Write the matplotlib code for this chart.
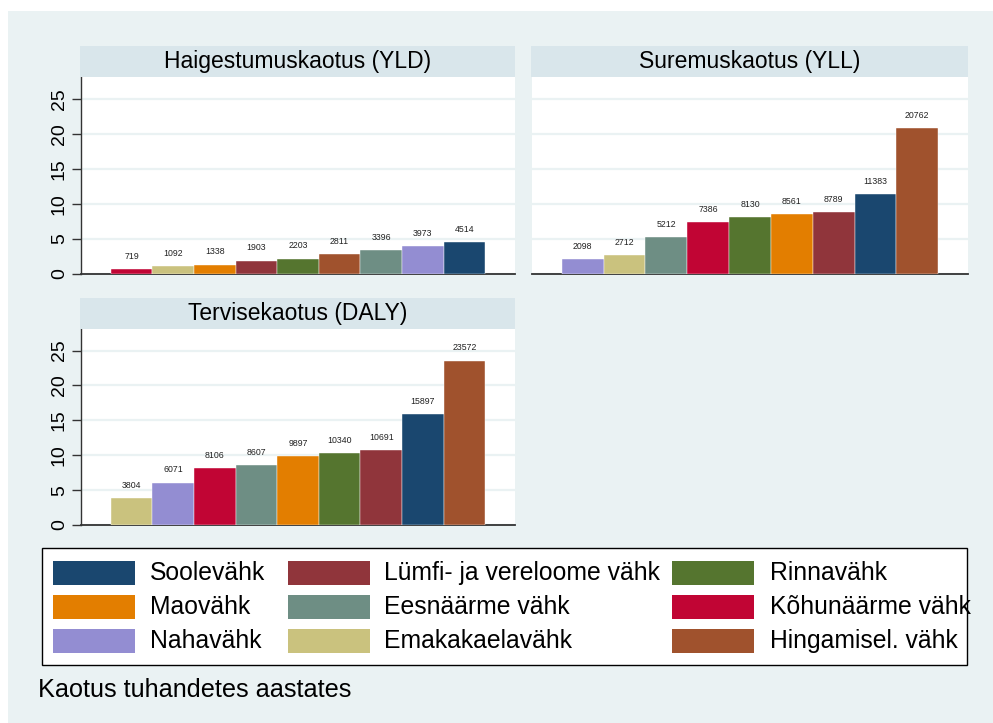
import matplotlib.pyplot as plt
from matplotlib.patches import Rectangle

plt.rcParams['font.family'] = ['Liberation Sans', 'DejaVu Sans']

# cancer types and their colours (legend order, row by row)
cancers = ['Soolevähk', 'Lümfi- ja vereloome vähk', 'Rinnavähk',
           'Maovähk', 'Eesnäärme vähk', 'Kõhunäärme vähk',
           'Nahavähk', 'Emakakaelavähk', 'Hingamisel. vähk']
colors = ['#1a476f', '#90353b', '#55752f',
          '#e37e00', '#6e8e84', '#c10534',
          '#938dd2', '#cac27e', '#a0522d']
cmap = dict(zip(cancers, colors))

# each panel sorted ascending, values in years
yld_cats = ['Kõhunäärme vähk', 'Emakakaelavähk', 'Maovähk', 'Lümfi- ja vereloome vähk',
            'Rinnavähk', 'Hingamisel. vähk', 'Eesnäärme vähk', 'Nahavähk', 'Soolevähk']
yld_vals = [719, 1092, 1338, 1903, 2203, 2811, 3396, 3973, 4514]

yll_cats = ['Nahavähk', 'Emakakaelavähk', 'Eesnäärme vähk', 'Kõhunäärme vähk', 'Rinnavähk',
            'Maovähk', 'Lümfi- ja vereloome vähk', 'Soolevähk', 'Hingamisel. vähk']
yll_vals = [2098, 2712, 5212, 7386, 8130, 8561, 8789, 11383, 20762]

daly_cats = ['Emakakaelavähk', 'Nahavähk', 'Kõhunäärme vähk', 'Eesnäärme vähk', 'Maovähk',
             'Rinnavähk', 'Lümfi- ja vereloome vähk', 'Soolevähk', 'Hingamisel. vähk']
daly_vals = [3804, 6071, 8106, 8607, 9897, 10340, 10691, 15897, 23572]

titles = ['Haigestumuskaotus (YLD)', 'Suremuskaotus (YLL)', 'Tervisekaotus (DALY)']
yticks = [0, 5, 10, 15, 20, 25]
note = 'Kaotus tuhandetes aastates'

W, H = 993, 723
BG = '#eaf2f3'
STRIP = '#d9e6eb'
AX = '#333333'
STRIP_H = 31


def fx(px):
    return px / W


def fy(py):
    return 1 - py / H


def panel(fig, left, right, top, bottom, cats, vals, title, show_y):
    # title strip above the plot area (top = top of strip, in pixels)
    fig.add_artist(Rectangle((fx(left - 1), fy(top + STRIP_H)), fx(right - left + 1), STRIP_H / H,
                             transform=fig.transFigure, facecolor=STRIP, edgecolor='none'))
    fig.text(fx((left + right) / 2), fy(top + STRIP_H / 2), title, ha='center', va='center', fontsize=16.5)
    ptop = top + STRIP_H
    ax = fig.add_axes([fx(left), fy(bottom), fx(right - left), (bottom - ptop) / H])
    ax.set_facecolor('white')
    x = range(len(vals))
    ax.bar(x, [v / 1000 for v in vals], width=1.0, color=[cmap[c] for c in cats],
           edgecolor='white', linewidth=0.3, zorder=3)
    for i, v in enumerate(vals):
        ax.annotate(str(v), (i, v / 1000), xytext=(0, 6), textcoords='offset points',
                    ha='center', va='bottom', fontsize=6.3, color='#222222')
    ax.set_xlim(-1.215, 9.215)
    ax.set_ylim(0, 28.1)
    ax.set_yticks(yticks)
    ax.yaxis.grid(True, color=BG, linewidth=1.6, zorder=0)
    ax.set_xticks([])
    for s in ['top', 'right']:
        ax.spines[s].set_visible(False)
    ax.spines['bottom'].set_color(AX)
    ax.spines['bottom'].set_linewidth(1.3)
    if show_y:
        ax.spines['left'].set_color(AX)
        ax.spines['left'].set_linewidth(1.0)
        ax.tick_params(axis='y', length=6.5, width=1.0, color=AX, pad=3, labelsize=14)
        for lab in ax.get_yticklabels():
            lab.set_rotation(90)
            lab.set_va('center')
    else:
        ax.spines['left'].set_visible(False)
        ax.tick_params(axis='y', length=0, labelleft=False)
    return ax


def main():
    fig = plt.figure(figsize=(W / 100, H / 100), dpi=100)
    fig.patch.set_facecolor('white')
    fig.add_artist(Rectangle((fx(8), 0), 1, fy(11), transform=fig.transFigure,
                             facecolor=BG, edgecolor='none', zorder=-5))

    panel(fig, 81, 515, 46, 274, yld_cats, yld_vals, titles[0], True)
    panel(fig, 532, 968, 46, 274, yll_cats, yll_vals, titles[1], False)
    panel(fig, 81, 515, 298, 525, daly_cats, daly_vals, titles[2], True)

    # legend box drawn by hand to match the Stata layout
    fig.add_artist(Rectangle((fx(42), fy(665)), fx(967 - 42), (665 - 548) / H, transform=fig.transFigure,
                             facecolor='white', edgecolor='black', linewidth=1.0))
    col_sw = [53, 288, 672]
    col_tx = [150, 384, 770]
    row_y = [573, 607, 641]
    for k, (name, col) in enumerate(zip(cancers, colors)):
        r, c = divmod(k, 3)
        fig.add_artist(Rectangle((fx(col_sw[c]), fy(row_y[r] + 12)), fx(82), 24 / H,
                                 transform=fig.transFigure, facecolor=col, edgecolor='none'))
        fig.text(fx(col_tx[c]), fy(row_y[r]), name, ha='left', va='center', fontsize=17.8)

    fig.text(fx(38), fy(690), note, ha='left', va='center', fontsize=18.2)

    fig.savefig('out.png', dpi=100, facecolor=fig.get_facecolor())


if __name__ == "__main__":
    main()
